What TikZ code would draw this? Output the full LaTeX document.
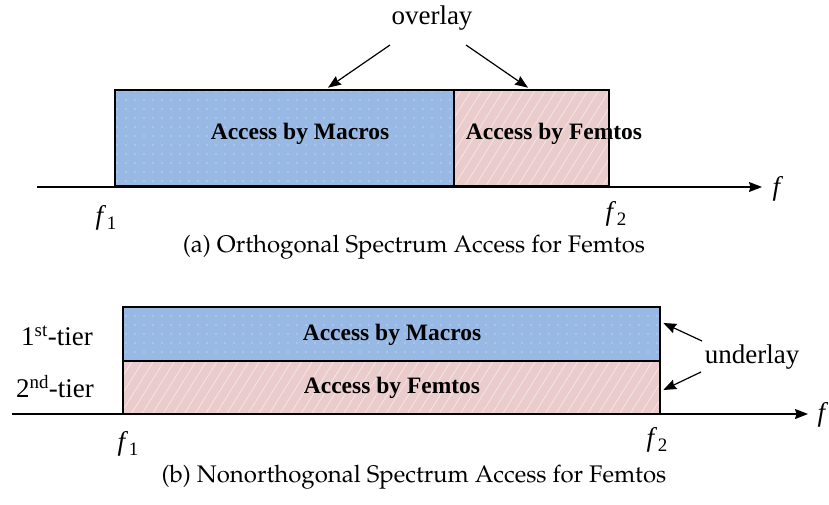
\documentclass[tikz,border=0pt]{standalone}
\usepackage{fontspec}
\setmainfont{Liberation Serif}
\usetikzlibrary{arrows.meta,patterns.meta,calc}
\definecolor{macroblue}{RGB}{152,185,228}
\definecolor{femtopink}{RGB}{234,204,204}
\newcommand\capfont{\fontencoding{OT1}\fontfamily{ppl}\fontsize{24}{28}\selectfont}
\newcommand\lblfont{\fontsize{27}{32}\selectfont}
\newcommand\bandfont{\bfseries\fontsize{23.5}{28}\selectfont}
\newcommand\freq[1]{\textit{f}\kern0.5pt\raisebox{-5pt}{\fontsize{19}{19}\selectfont #1}}
\begin{document}
\begin{tikzpicture}[x=1pt,y=-1pt,
  band/.style={draw=black,line width=2.6pt,inner sep=0pt,anchor=center},
  macroband/.style={band,preaction={fill=macroblue},
    preaction={pattern={Dots[distance=9pt,radius=0.6pt]},pattern color=white!75!macroblue}},
  femtoband/.style={band,preaction={fill=femtopink},
    preaction={pattern={Lines[angle=58,distance=9pt,line width=0.7pt]},pattern color=white!55!femtopink}},
  axisline/.style={line width=1.3pt,-{Stealth[length=13pt,width=10pt,inset=1.5pt]}},
  pointer/.style={line width=1.2pt,-{Stealth[length=13pt,width=10pt,inset=1.5pt]}},
  txt/.style={inner sep=0pt,font=\lblfont},
  bandtxt/.style={inner sep=0pt,font=\bandfont},
  captxt/.style={inner sep=0pt,font=\capfont}]
\path[use as bounding box] (0,0) rectangle (829,505);

% ---------- (a) orthogonal access ----------
\coordinate (a0) at (37,187);
\coordinate (a1) at (762,187);
\draw[axisline] (a0) -- (a1);
\node[macroband,minimum width=339pt,minimum height=96pt] (m1) at (284.5,138) {};
\node[femtoband,minimum width=155pt,minimum height=96pt] (fe1) at (531.5,138) {};
\node[bandtxt] (m1t) at (300,134) {Access by Macros};
\node[bandtxt] (fe1t) at (554,134) {Access by Femtos};
\node[txt] (ov) at (432,18) {overlay};
\coordinate (ovL) at (390,45);
\coordinate (ovR) at (466,45);
\draw[pointer] (ovL) -- ($(m1.north)+(43.5,-1)$);
\draw[pointer] (ovR) -- ($(fe1.north)+(-3.5,-1)$);
\node[txt] (f1a) at (106,218) {\freq{1}};
\node[txt] (f2a) at (616,214) {\freq{2}};
\node[txt] (fa) at (778,189) {\textit{f}};
\node[captxt] (capa) at (414,247) {(a) Orthogonal Spectrum Access for Femtos};

% ---------- (b) non-orthogonal access ----------
\coordinate (b0) at (12,414);
\coordinate (b1) at (808,414);
\draw[axisline] (b0) -- (b1);
\node[femtoband,minimum width=537pt,minimum height=53pt] (fe2) at (391.5,387.5) {};
\node[macroband,minimum width=537pt,minimum height=54pt] (m2) at (391.5,334) {};
\node[bandtxt] (m2t) at (392,335) {Access by Macros};
\node[bandtxt] (fe2t) at (392,388) {Access by Femtos};
\node[txt] (t1) at (57,336) {1\textsuperscript{st}-tier};
\node[txt] (t2) at (55,387) {2\textsuperscript{nd}-tier};
\node[txt] (ul) at (752,357) {underlay};
\coordinate (ulA) at (702,341);
\coordinate (ulB) at (701,372);
\draw[pointer] (ulA) -- ($(m2.east)+(2,-11)$);
\draw[pointer] (ulB) -- ($(fe2.east)+(2,2.5)$);
\node[txt] (f1b) at (128,444) {\freq{1}};
\node[txt] (f2b) at (657,440) {\freq{2}};
\node[txt] (fb) at (823,415) {\textit{f}};
\node[captxt] (capb) at (414,477) {(b) Nonorthogonal Spectrum Access for Femtos};
\end{tikzpicture}
\end{document}
